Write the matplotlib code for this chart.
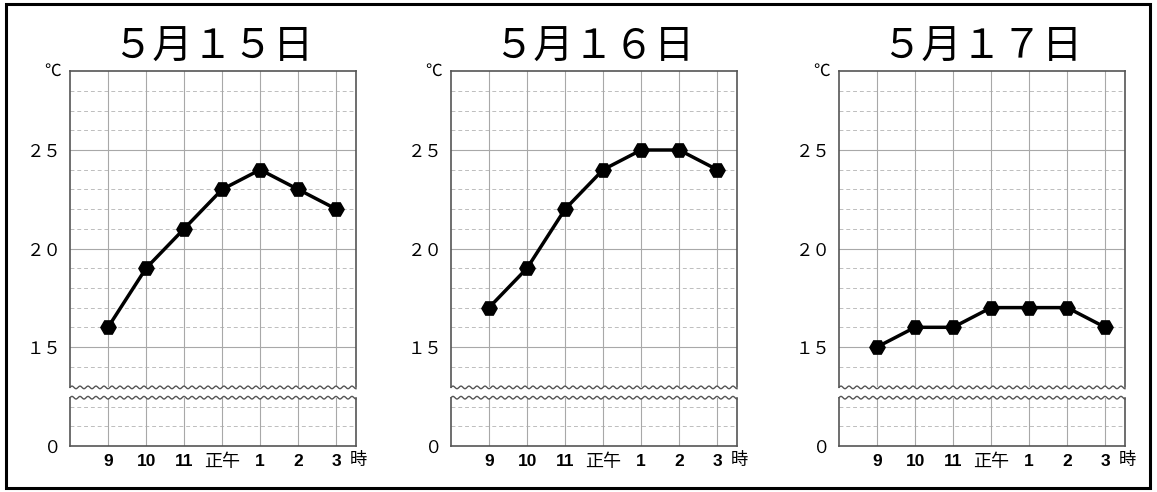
import numpy as np
import matplotlib.pyplot as plt
from matplotlib.patches import Rectangle

plt.rcParams['font.family'] = ['Noto Sans CJK JP', 'DejaVu Sans']

# data
titles = ['５月１５日', '５月１６日', '５月１７日']
hours = [9, 10, 11, 12, 13, 14, 15]
hour_labels = ['9', '10', '11', '正午', '1', '2', '3']
temp_0515 = [16, 19, 21, 23, 24, 23, 22]
temp_0516 = [17, 19, 22, 24, 25, 25, 24]
temp_0517 = [15, 16, 16, 17, 17, 17, 16]
temps = [temp_0515, temp_0516, temp_0517]
ytick_vals = [15, 20, 25]
ytick_labels = ['１５', '２０', '２５']

W, H = 1157, 492
fig = plt.figure(figsize=(W / 100, H / 100), dpi=100)

# frame around the whole picture
fig.patches.append(Rectangle((6 / W, 4 / H), 1144 / W, 484 / H, transform=fig.transFigure,
                             fill=False, edgecolor='black', linewidth=2.2))

lefts = [70, 451, 839]
pw = 286
up_top, up_bot = 71.2, 387.4
lo_top, lo_bot = 397.7, 446
xlim = (8, 15.52)
grid_c = '#a8a8a8'
dash_c = '#bdbdbd'
spine_c = '#555555'
tick_font = ['Liberation Sans', 'Noto Sans CJK JP']


def wavy(ax, y0, hpx):
    x = np.linspace(0, 1, 600)
    amp = 1.3 / hpx
    y = y0 + amp * np.sin(2 * np.pi * x * pw / 8.0)
    ax.plot(x, y, color=spine_c, lw=1.0, transform=ax.transAxes, clip_on=False, zorder=5)


for k in range(3):
    l = lefts[k]
    # upper part
    ax = fig.add_axes([l / W, (H - up_bot) / H, pw / W, (up_bot - up_top) / H])
    ax.set_xlim(*xlim)
    ax.set_ylim(12.95, 29)
    for v in range(14, 29):
        if v % 5 == 0:
            ax.axhline(v, color=grid_c, lw=0.8, zorder=1)
        else:
            ax.axhline(v, color=dash_c, lw=0.7, ls=(0, (4, 3)), zorder=1)
    for h in hours:
        ax.axvline(h, color=grid_c, lw=0.8, zorder=1)
    ax.plot(hours, temps[k], color='black', lw=2.5, marker='H', markersize=11, zorder=3)
    ax.set_xticks([])
    ax.set_yticks(ytick_vals)
    ax.set_yticklabels(ytick_labels, fontsize=12.5)
    ax.tick_params(axis='y', length=0, pad=6)
    for s in ['left', 'right', 'top']:
        ax.spines[s].set_color(spine_c)
        ax.spines[s].set_linewidth(1.2)
    ax.spines['bottom'].set_visible(False)
    wavy(ax, 0, up_bot - up_top)
    ax.text(-0.06, 1.0, '℃', transform=ax.transAxes, ha='center', va='center', fontsize=12)
    ax.set_title(titles[k], fontsize=29, pad=9)

    # lower part
    ax2 = fig.add_axes([l / W, (H - lo_bot) / H, pw / W, (lo_bot - lo_top) / H])
    ax2.set_xlim(*xlim)
    ax2.set_ylim(0, 2.45)
    for v in [1, 2]:
        ax2.axhline(v, color=dash_c, lw=0.7, ls=(0, (4, 3)), zorder=1)
    for h in hours:
        ax2.axvline(h, color=grid_c, lw=0.8, zorder=1)
    ax2.set_yticks([0])
    ax2.set_yticklabels(['０'], fontsize=12.5)
    ax2.tick_params(axis='y', length=0, pad=6)
    ax2.set_xticks(hours)
    ax2.set_xticklabels(hour_labels, fontsize=12.5, fontweight='bold', family=tick_font)
    for t in ax2.get_xticklabels():
        if t.get_text() == '正午':
            t.set_fontweight('normal')
            t.set_fontsize(13)
    ax2.tick_params(axis='x', length=0, pad=6)
    for s in ['left', 'right', 'bottom']:
        ax2.spines[s].set_color(spine_c)
        ax2.spines[s].set_linewidth(1.2)
    ax2.spines['top'].set_visible(False)
    wavy(ax2, 1, lo_bot - lo_top)
    ax2.text(15.58, -0.3, '時', transform=ax2.get_xaxis_transform(), ha='center', va='center',
             fontsize=12.5)

fig.savefig('out.png', dpi=100)
